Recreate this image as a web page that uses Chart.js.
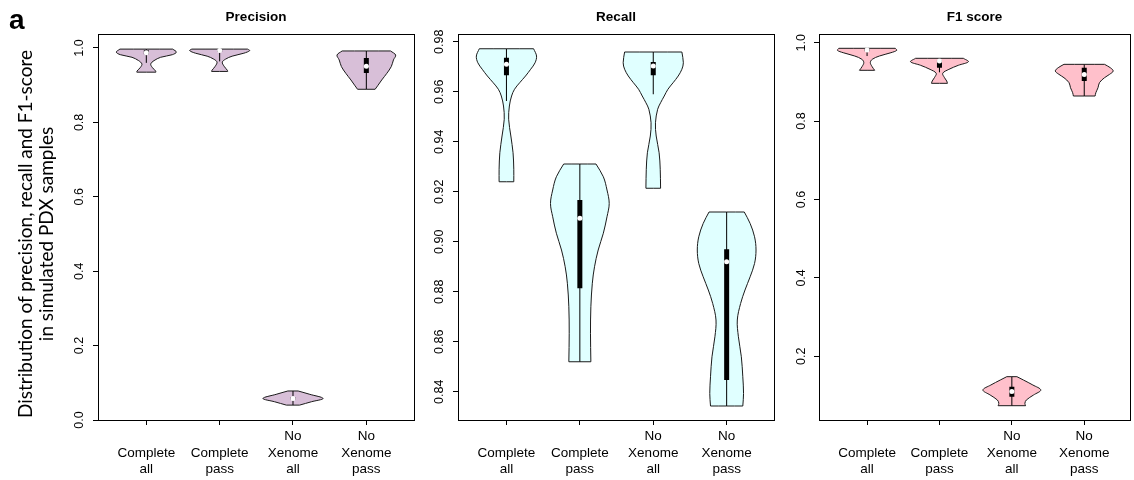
<!DOCTYPE html>
<html>
<head>
<meta charset="utf-8">
<script src="https://cdn.jsdelivr.net/npm/chart.js@4/dist/chart.umd.min.js"></script>
<style>
  body { margin: 0; background: #fff; }
  #wrap { position: relative; width: 1134px; height: 480px; overflow: hidden; }
  #wrap canvas { position: absolute; left: 0; top: 0; }
  #tag { position: absolute; left: 9px; top: 6px; font: bold 28px/28px "Liberation Sans", Arial, sans-serif; }
  #ylab {
    position: absolute; left: 34.5px; top: 234px;
    transform: translate(-50%, -50%) rotate(-90deg);
    font: 19px/21px Lato, sans-serif; text-align: center; white-space: nowrap;
  }
</style>
</head>
<body>
<div id="wrap">
  <canvas id="precChart" width="1134" height="480"></canvas>
  <canvas id="recChart" width="1134" height="480"></canvas>
  <canvas id="f1Chart" width="1134" height="480"></canvas>
  <div id="tag">a</div>
  <div id="ylab"></div>
</div>
<script>
var categories = [['Complete', 'all'], ['Complete', 'pass'], ['No', 'Xenome', 'all'], ['No', 'Xenome', 'pass']];
var yTitle = ['Distribution of precision, recall and F1-score', 'in simulated PDX samples'];

// Precision: violin outline = value levels (bottom to top) and half widths
var precTicks = [0, 0.2, 0.4, 0.6, 0.8, 1.0];
var precLevels = [
  [0.935, 0.938, 0.948, 0.957, 0.966, 0.975, 0.982, 0.989, 0.997],
  [0.937, 0.940, 0.951, 0.962, 0.970, 0.978, 0.986, 0.993, 0.997],
  [0.040, 0.049, 0.058, 0.069, 0.078],
  [0.889, 0.900, 0.914, 0.932, 0.950, 0.968, 0.981, 0.992]
];
var precWidths = [
  [0.13, 0.127, 0.08, 0.06, 0.105, 0.195, 0.355, 0.41, 0.36],
  [0.11, 0.105, 0.06, 0.036, 0.08, 0.17, 0.33, 0.41, 0.38],
  [0.09, 0.25, 0.41, 0.23, 0.07],
  [0.12, 0.16, 0.21, 0.28, 0.34, 0.37, 0.40, 0.33]
];
var precLow = [0.960, 0.964, 0.040, 0.889];
var precQ1 = [0.983, 0.990, 0.055, 0.933];
var precMedian = [0.987, 0.993, 0.058, 0.951];
var precQ3 = [0.994, 0.996, 0.061, 0.973];
var precHigh = [0.997, 0.997, 0.078, 0.992];

// Recall
var recTicks = [0.84, 0.86, 0.88, 0.90, 0.92, 0.94, 0.96, 0.98];
var recLevels = [
  [0.924, 0.929, 0.9356, 0.9423, 0.949, 0.9543, 0.9583, 0.961, 0.9636, 0.9663, 0.969, 0.9716, 0.9743, 0.9772],
  [0.852, 0.8634, 0.874, 0.8834, 0.890, 0.8967, 0.9034, 0.910, 0.9153, 0.9207, 0.926, 0.9311],
  [0.9214, 0.929, 0.9356, 0.9423, 0.9476, 0.953, 0.9556, 0.9583, 0.961, 0.9636, 0.9663, 0.969, 0.9716, 0.9759],
  [0.8343, 0.8393, 0.846, 0.854, 0.862, 0.8687, 0.8753, 0.8807, 0.886, 0.8913, 0.8967, 0.902, 0.9073, 0.9119]
];
var recWidths = [
  [0.10, 0.10, 0.09, 0.06, 0.03, 0.04, 0.07, 0.11, 0.18, 0.26, 0.33, 0.39, 0.41, 0.37],
  [0.15, 0.145, 0.15, 0.17, 0.20, 0.25, 0.32, 0.37, 0.40, 0.37, 0.32, 0.22],
  [0.10, 0.095, 0.08, 0.04, 0.03, 0.06, 0.10, 0.15, 0.20, 0.27, 0.34, 0.39, 0.41, 0.39],
  [0.22, 0.23, 0.22, 0.20, 0.16, 0.145, 0.19, 0.25, 0.32, 0.38, 0.40, 0.38, 0.32, 0.24]
];
var recLow = [0.9563, 0.852, 0.959, 0.8343];
var recQ1 = [0.9666, 0.8814, 0.9666, 0.8447];
var recMedian = [0.971, 0.9094, 0.9703, 0.892];
var recQ3 = [0.9736, 0.9167, 0.9719, 0.897];
var recHigh = [0.9772, 0.9311, 0.9759, 0.9119];

// F1 score
var f1Ticks = [0.2, 0.4, 0.6, 0.8, 1.0];
var f1Levels = [
  [0.9296, 0.9388, 0.949, 0.9575, 0.966, 0.9745, 0.9806, 0.9857],
  [0.8964, 0.9023, 0.9107, 0.922, 0.932, 0.9423, 0.9515, 0.9602],
  [0.074, 0.080, 0.0885, 0.1013, 0.114, 0.1268, 0.1395, 0.148],
  [0.864, 0.8724, 0.8852, 0.898, 0.9107, 0.9193, 0.9278, 0.9362, 0.9448]
];
var f1Widths = [
  [0.105, 0.07, 0.045, 0.07, 0.17, 0.33, 0.41, 0.39],
  [0.11, 0.10, 0.07, 0.045, 0.13, 0.26, 0.40, 0.33],
  [0.19, 0.18, 0.20, 0.30, 0.40, 0.29, 0.16, 0.07],
  [0.15, 0.16, 0.19, 0.21, 0.28, 0.35, 0.40, 0.36, 0.28]
];
var f1Low = [0.966, 0.9245, 0.074, 0.864];
var f1Q1 = [0.978, 0.9362, 0.097, 0.9023];
var f1Median = [0.9814, 0.9533, 0.110, 0.919];
var f1Q3 = [0.984, 0.9559, 0.1224, 0.9362];
var f1High = [0.9857, 0.9602, 0.148, 0.9448];

Chart.defaults.font.family = '"Liberation Sans", Arial, sans-serif';
Chart.defaults.color = '#000';

// shared y label, set as text so it stays real text
document.getElementById('ylab').innerHTML = yTitle.join('<br>');

// closed outline: up the left side, across the top, down the right side
// corner points are doubled so the flat caps stay straight
function violinOutline(center, levels, widths) {
  var left = [], right = [];
  for (var i = 0; i < levels.length; i++) {
    left.push({x: center - widths[i], y: levels[i]});
    right.unshift({x: center + widths[i], y: levels[i]});
  }
  var n = levels.length;
  return left.concat([left[n - 1], right[0]], right, [right[n - 1], left[0]]);
}

function buildDatasets(fillColor, levels, widths, low, q1, median, q3, high) {
  var sets = [];
  var whisker = [], box = [], mid = [];
  for (var i = 0; i < levels.length; i++) {
    var c = i + 1;
    sets.push({
      data: violinOutline(c, levels[i], widths[i]),
      showLine: true, fill: 'shape', backgroundColor: fillColor,
      borderColor: '#1a1a1a', borderWidth: 1, borderJoinStyle: 'round',
      pointRadius: 0, tension: 0.35, order: 3
    });
    whisker.push({x: c, y: low[i]}, {x: c, y: high[i]}, {x: c, y: null});
    box.push({x: c, y: q1[i]}, {x: c, y: q3[i]}, {x: c, y: null});
    mid.push({x: c, y: median[i]});
  }
  sets.push({data: whisker, showLine: true, borderColor: '#000', borderWidth: 1, pointRadius: 0, order: 2});
  sets.push({data: box, showLine: true, borderColor: '#000', borderWidth: 5, borderCapStyle: 'butt', pointRadius: 0, order: 1});
  sets.push({data: mid, showLine: false, pointRadius: 2.5, pointBackgroundColor: '#fff', pointBorderWidth: 0, order: 0});
  return sets;
}

// the left axis box spans from the page edge to the plot frame, the bottom one
// takes the 60px under it, so the tick labels are not clipped away
function makeChart(id, p) {
  return new Chart(document.getElementById(id), {
    type: 'scatter',
    data: {datasets: p.datasets},
    options: {
      responsive: false,
      animation: false,
      events: [],
      devicePixelRatio: 1,
      layout: {padding: {left: 0, top: 0, bottom: 0, right: p.right}},
      plugins: {
        legend: {display: false},
        tooltip: {enabled: false},
        title: {
          display: true, text: p.title, fullSize: false, color: '#000',
          font: {size: 13.5, weight: 'bold', lineHeight: 1.2},
          padding: {top: 9.5, bottom: 8.3}
        }
      },
      scales: {
        x: {
          type: 'linear', position: 'bottom', min: p.xMin, max: p.xMax,
          afterBuildTicks: function (s) {
            s.ticks = categories.map(function (c, i) { return {value: i + 1}; });
          },
          afterFit: function (s) { s.height = 60; },
          grid: {drawOnChartArea: false, tickLength: 5, color: '#000'},
          border: {color: '#000'},
          ticks: {
            autoSkip: false, maxRotation: 0, padding: 3,
            font: {size: 13.5, lineHeight: 1.235},
            callback: function (v) {
              var lines = categories[Math.round(v) - 1];
              return lines.length < 3 ? [''].concat(lines) : lines;
            }
          }
        },
        y: {
          type: 'linear', position: 'left', min: p.yMin, max: p.yMax,
          afterBuildTicks: function (s) {
            s.ticks = p.ticks.map(function (v) { return {value: v}; });
          },
          afterFit: function (s) { s.width = p.left; },
          grid: {drawOnChartArea: false, tickLength: 5, color: '#000'},
          border: {color: '#000'},
          ticks: {
            minRotation: 90, maxRotation: 90, crossAlign: 'center', padding: p.yPad,
            font: {size: 12.5},
            callback: function (v) { return v.toFixed(p.digits); }
          }
        },
        xTop: {
          type: 'linear', position: 'top', min: 0, max: 1,
          afterFit: function (s) { s.height = 0; },
          ticks: {display: false}, grid: {display: false}, border: {color: '#000'}
        },
        yRight: {
          type: 'linear', position: 'right', min: 0, max: 1,
          afterFit: function (s) { s.width = 0; },
          ticks: {display: false}, grid: {display: false}, border: {color: '#000'}
        }
      }
    }
  });
}

makeChart('precChart', {
  title: 'Precision',
  datasets: buildDatasets('#d8bfd8', precLevels, precWidths, precLow, precQ1, precMedian, precQ3, precHigh),
  left: 98, right: 720,
  xMin: 0.341, xMax: 4.65, yMin: 0, yMax: 1.0376,
  ticks: precTicks, digits: 1, yPad: 4.5
});

makeChart('recChart', {
  title: 'Recall',
  datasets: buildDatasets('#e0ffff', recLevels, recWidths, recLow, recQ1, recMedian, recQ3, recHigh),
  left: 458, right: 360,
  xMin: 0.34, xMax: 4.645, yMin: 0.8287, yMax: 0.9831,
  ticks: recTicks, digits: 2, yPad: 1
});

makeChart('f1Chart', {
  title: 'F1 score',
  datasets: buildDatasets('#ffc0cb', f1Levels, f1Widths, f1Low, f1Q1, f1Median, f1Q3, f1High),
  left: 819, right: 0,
  xMin: 0.336, xMax: 4.632, yMin: 0.0375, yMax: 1.0222,
  ticks: f1Ticks, digits: 1, yPad: 3.5
});
</script>
</body>
</html>
